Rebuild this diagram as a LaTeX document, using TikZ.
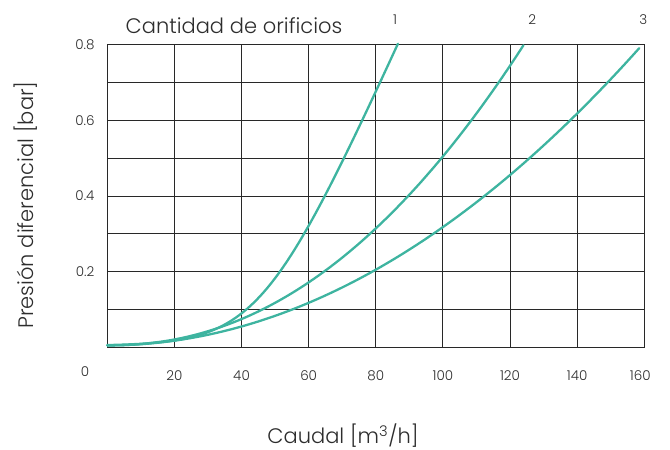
\documentclass[tikz,border=0pt]{standalone}
\usepackage{fontspec}
\IfFontExistsTF{Poppins Light}{\setmainfont{Poppins Light}}{\setmainfont{Poppins}}
\definecolor{txt}{RGB}{45,45,45}
\definecolor{gridc}{RGB}{40,40,40}
\definecolor{teal}{RGB}{62,180,160}
\tikzset{
  gridline/.style={draw=gridc, line width=0.9pt},
  frameline/.style={draw=gridc, line width=1.2pt},
  curve/.style={draw=teal, line width=2.3pt, smooth, samples=120, line cap=round, variable=\t},
  ticklab/.style={text=txt, font=\fontsize{13.5}{15}\selectfont, inner sep=0pt},
  titlelab/.style={text=txt, font=\fontsize{21}{24}\selectfont, inner sep=0pt}
}
\begin{document}
\begin{tikzpicture}[x=3.356pt, y=378pt]
\path[use as bounding box] (-107.3pt,-102.7pt) rectangle (562.7pt,347.3pt);
% grid
\foreach \xx in {20,40,...,140} \draw[gridline] (\xx,0) -- (\xx,0.8);
\foreach \yy in {0.1,0.2,...,0.75} \draw[gridline] (0,\yy) -- (160,\yy);
\draw[frameline] (0,0) rectangle (160,0.8);
% curves
\draw[curve, domain=0:86.6] plot ({\t},{0.004+0.196*ln(1+exp((\t-46)/10))});
\draw[curve, domain=0.01:124] plot ({\t},{0.005+0.5*pow(\t/100,2.15)});
\draw[curve, domain=0:158.5] plot ({\t},{0.005+0.313*(\t/100)*(\t/100)});
% labels
\node[titlelab] (title) at (126.7pt,321.3pt) {Cantidad de orificios};
\node[ticklab] (n1) at (287.7pt,327.3pt) {1};
\node[ticklab] (n2) at (425pt,327.3pt) {2};
\node[ticklab] (n3) at (536pt,327.3pt) {3};
\node[ticklab] (y8) at ([xshift=-22.3pt]0,0.8) {0.8};
\node[ticklab] (y6) at ([xshift=-22.3pt]0,0.6) {0.6};
\node[ticklab] (y4) at ([xshift=-22.3pt]0,0.4) {0.4};
\node[ticklab] (y2) at ([xshift=-22.3pt]0,0.2) {0.2};
\node[ticklab] (x0) at (-22.3pt,-24.4pt) {0};
\foreach \xx in {20,40,...,140} \node[ticklab] (x\xx) at ([yshift=-28.7pt]\xx,0) {\xx};
\node[ticklab] (x160) at ([yshift=-28.7pt,xshift=-4pt]160,0) {160};
\node[titlelab] (xlab) at (235.7pt,-88.7pt) {Caudal [m\textsuperscript{3}/h]};
\node[titlelab, rotate=90] (ylab) at (-81.3pt,142.3pt) {Presión diferencial [bar]};
\end{tikzpicture}
\end{document}
